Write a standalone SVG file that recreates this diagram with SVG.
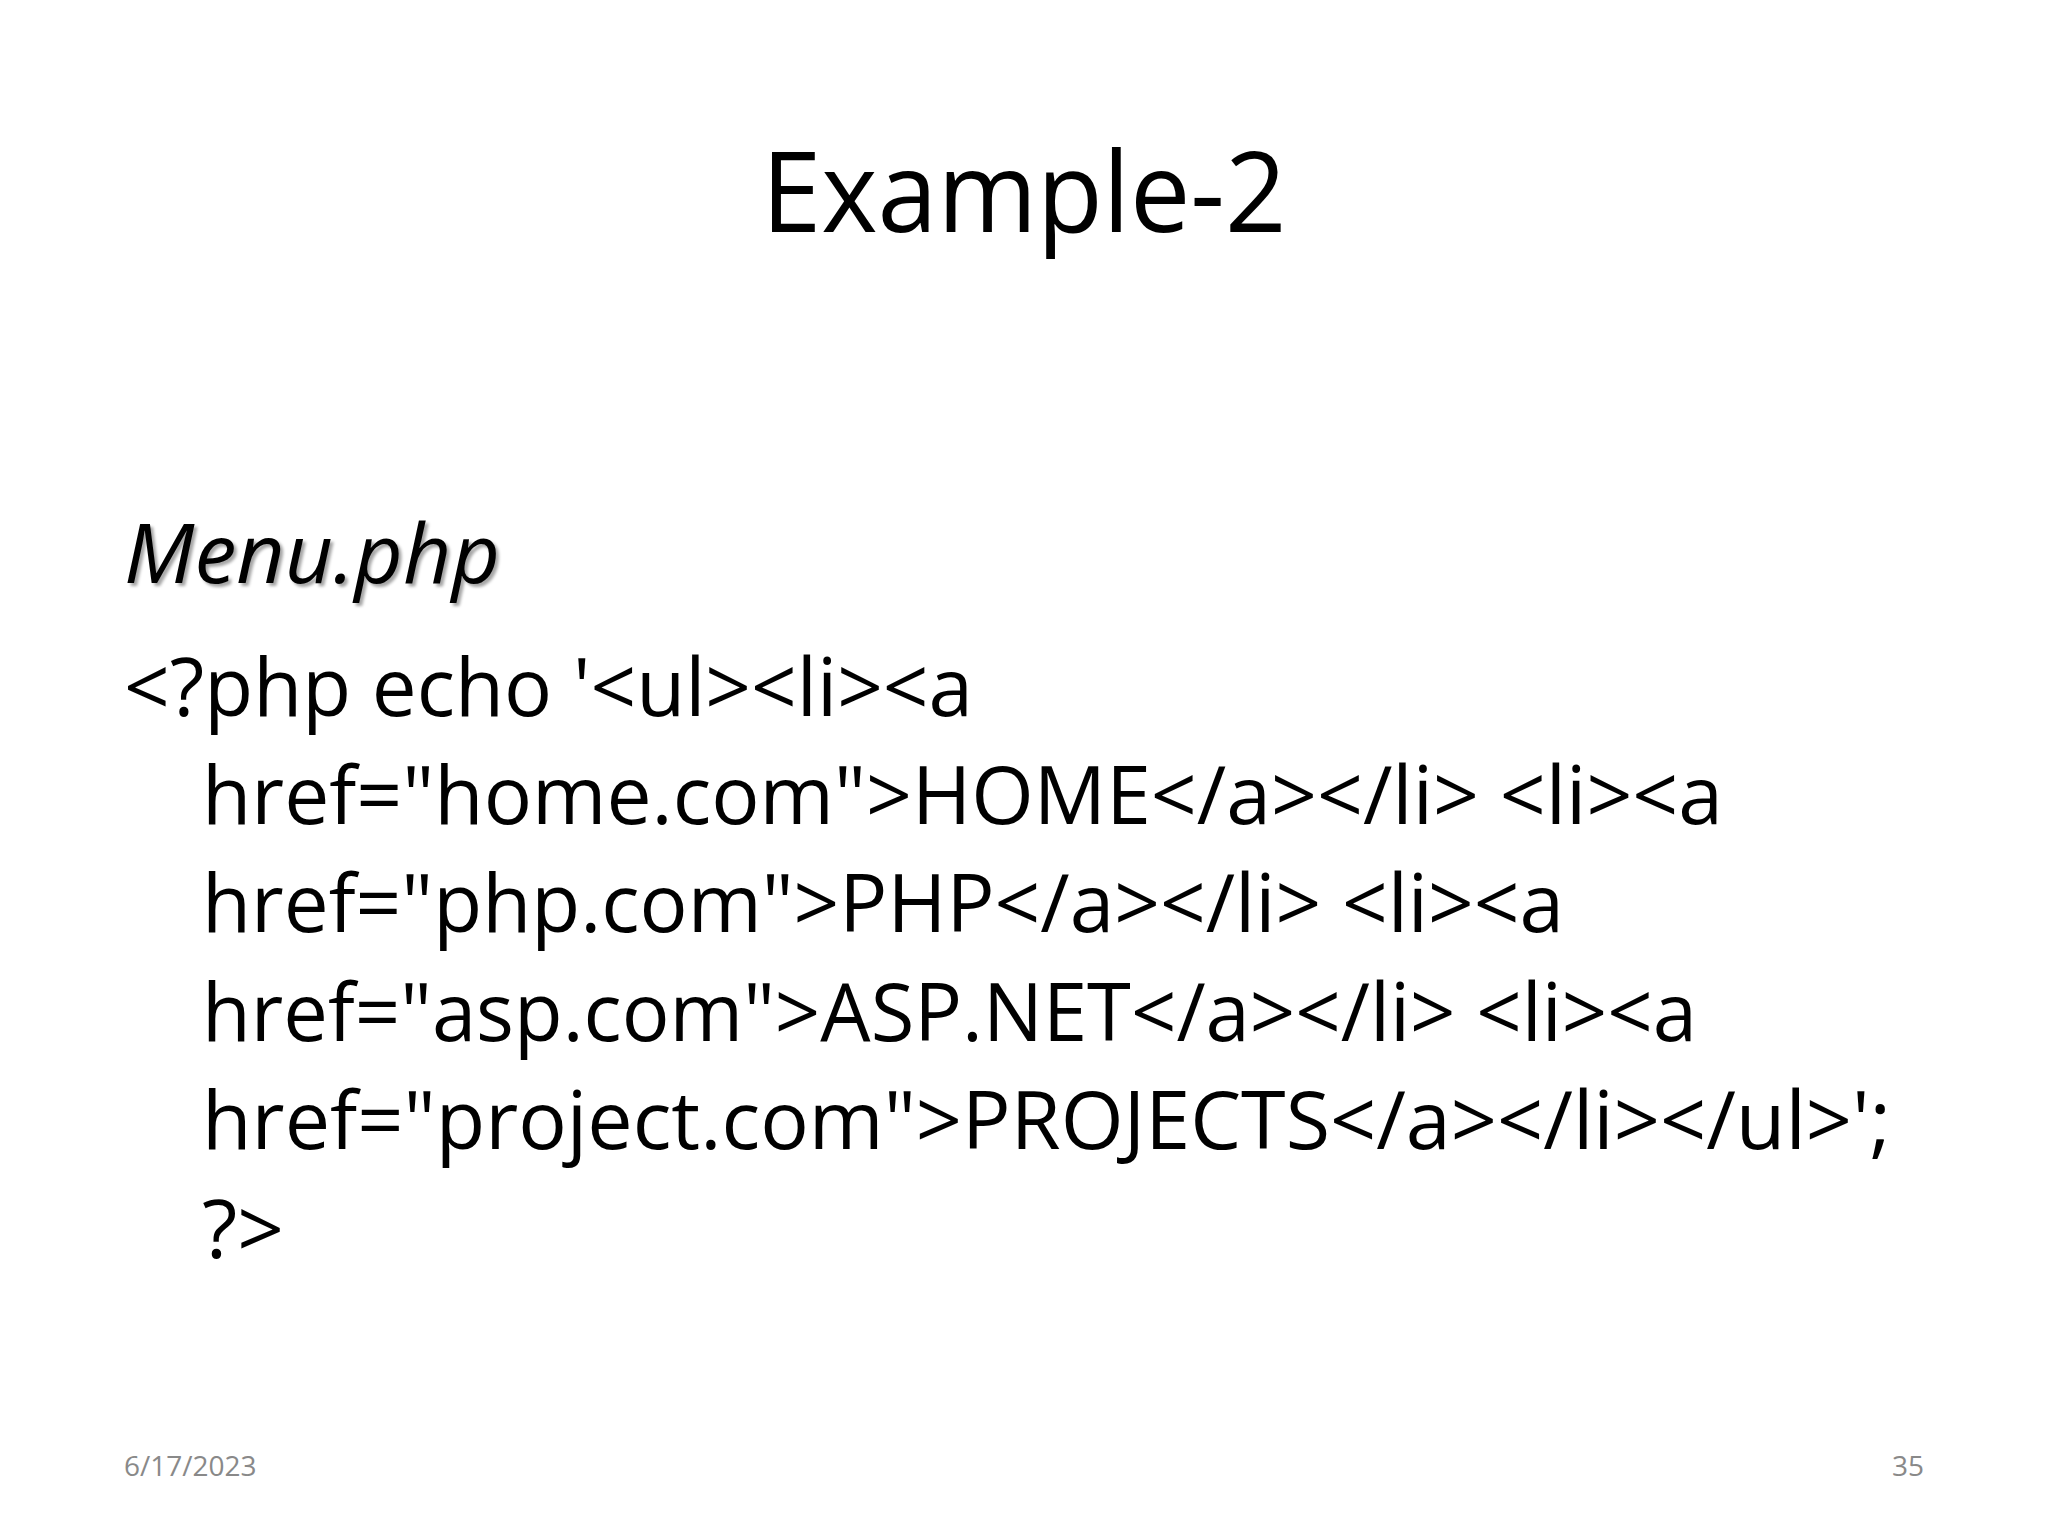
<svg xmlns="http://www.w3.org/2000/svg" width="2048" height="1536" viewBox="0 0 2048 1536">
<defs>
<style>
.t{font-family:"Open Sans","Noto Sans","Liberation Sans",sans-serif;fill:#000}
.c{font-size:80px}
.f{font-family:"Open Sans","Liberation Sans",sans-serif;font-size:28px;fill:#898989}
</style>
<filter id="sh" x="-10%" y="-10%" width="130%" height="140%"><feDropShadow dx="3" dy="3" stdDeviation="1.5" flood-color="#000" flood-opacity="0.35"/></filter>
</defs>
<rect width="2048" height="1536" fill="#fff"/>
<g id="title"><text class="t" x="1024" y="232" font-size="112" text-anchor="middle" textLength="525" lengthAdjust="spacingAndGlyphs">Example-2</text></g>
<g id="heading"><text class="t" x="124" y="583" font-size="82" font-style="italic" filter="url(#sh)" textLength="376" lengthAdjust="spacingAndGlyphs">Menu.php</text></g>
<g id="code">
<text class="t c" x="124" y="716" textLength="849" lengthAdjust="spacingAndGlyphs">&lt;?php echo '&lt;ul&gt;&lt;li&gt;&lt;a</text>
<text class="t c" x="202" y="824" textLength="1521" lengthAdjust="spacingAndGlyphs">href="home.com"&gt;HOME&lt;/a&gt;&lt;/li&gt; &lt;li&gt;&lt;a</text>
<text class="t c" x="202" y="932" textLength="1362" lengthAdjust="spacingAndGlyphs">href="php.com"&gt;PHP&lt;/a&gt;&lt;/li&gt; &lt;li&gt;&lt;a</text>
<text class="t c" x="202" y="1041" textLength="1495" lengthAdjust="spacingAndGlyphs">href="asp.com"&gt;ASP.NET&lt;/a&gt;&lt;/li&gt; &lt;li&gt;&lt;a</text>
<text class="t c" x="202" y="1149" textLength="1689" lengthAdjust="spacingAndGlyphs">href="project.com"&gt;PROJECTS&lt;/a&gt;&lt;/li&gt;&lt;/ul&gt;';</text>
<text class="t c" x="202" y="1258" textLength="82" lengthAdjust="spacingAndGlyphs">?&gt;</text>
</g>
<g id="footer">
<text class="f" x="124" y="1476">6/17/2023</text>
<text class="f" x="1924" y="1476" text-anchor="end">35</text>
</g>
</svg>
